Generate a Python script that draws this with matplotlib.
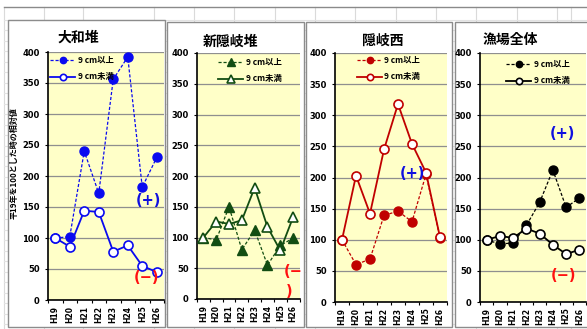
import numpy as np
import matplotlib
matplotlib.use("Agg")
import matplotlib.pyplot as plt
from matplotlib.patches import Rectangle
from matplotlib.lines import Line2D

plt.rcParams['font.family'] = ['Noto Sans CJK JP', 'DejaVu Sans']

# ---------- data ----------
years = ["H19", "H20", "H21", "H22", "H23", "H24", "H25", "H26"]
titles = ["大和堆", "新隠岐堆", "隠岐西", "漁場全体"]
label_big = "9 cm以上"
label_small = "9 cm未満"

yamato_big = [100, 102, 240, 172, 356, 392, 182, 230]
yamato_small = [100, 86, 144, 142, 78, 88, 55, 45]
shinoki_big = [100, 96, 150, 80, 112, 55, 87, 99]
shinoki_small = [100, 126, 122, 128, 181, 117, 79, 133]
okinishi_big = [100, 60, 69, 139, 146, 129, 205, 103]
okinishi_small = [100, 203, 142, 245, 318, 254, 208, 104]
zentai_big = [100, 93, 95, 123, 160, 212, 152, 167]
zentai_small = [100, 106, 103, 118, 110, 92, 77, 84]

W, H = 587, 329


def fbox(x0, y0, x1, y1):
    return [x0 / W, 1 - y1 / H, (x1 - x0) / W, (y1 - y0) / H]


def fx(x):
    return x / W


def fy(y):
    return 1 - y / H


fig = plt.figure(figsize=(W / 100, H / 100), dpi=100)

# ---------- spreadsheet background ----------
for cx in [4, 44, 83, 154, 194, 234, 275, 315, 355, 396, 436, 476, 517, 557, 571]:
    fig.add_artist(Line2D([fx(cx)] * 2, [fy(7), fy(329)], color="#dadada", lw=0.8, zorder=-3))
for ry in np.arange(19.5, 329, 10.5):
    fig.add_artist(Line2D([fx(4), 1], [fy(ry)] * 2, color="#e2e2e2", lw=0.8, zorder=-3))
fig.add_artist(Line2D([fx(4), 1], [fy(7)] * 2, color="#8a8a8a", lw=1.0, zorder=-3))

# ---------- panels ----------
panels = [
    dict(frame=(8, 20, 165, 327), plot=(48, 52, 164, 300), color="#0a0af0", marker="o",
         big=yamato_big, small=yamato_small, title_xy=(57, 38), leg=(50, 56)),
    dict(frame=(167, 22, 304, 327), plot=(197, 53, 299.5, 299), color="#124d12", marker="^",
         big=shinoki_big, small=shinoki_small, title_xy=(203, 42), leg=(218, 58)),
    dict(frame=(306, 22, 452, 327), plot=(335, 53, 447, 302), color="#c00000", marker="o",
         big=okinishi_big, small=okinishi_small, title_xy=(362, 41), leg=(357, 56)),
    dict(frame=(455, 22, 592, 327), plot=(480, 53, 586, 302), color="#000000", marker="o",
         big=zentai_big, small=zentai_small, title_xy=(483, 40), leg=(506, 60)),
]

x = np.arange(len(years))
for i, p in enumerate(panels):
    x0, y0, x1, y1 = p["frame"]
    fig.add_artist(Rectangle((fx(x0), fy(y1)), (x1 - x0) / W, (y1 - y0) / H,
                             transform=fig.transFigure, facecolor="white",
                             edgecolor="#8c8c8c", lw=1.0, zorder=-1))
    ax = fig.add_axes(fbox(*p["plot"]))
    ax.set_facecolor("#ffffc8")
    c = p["color"]
    ms = 7.5 if p["marker"] == "^" else 6.5
    ax.plot(x, p["big"], linestyle=(0, (2.5, 1.5)), lw=0.9, color=c,
            marker=p["marker"], ms=ms, mfc=c, mec=c, label=label_big, zorder=3)
    ax.plot(x, p["small"], linestyle="-", lw=1.3, color=c,
            marker=p["marker"], ms=ms, mfc="white", mec=c, mew=1.2, label=label_small, zorder=4)
    ax.set_xlim(-0.5, len(years) - 0.5)
    ax.set_ylim(0, 400)
    ax.set_yticks(np.arange(0, 401, 50))
    ax.yaxis.grid(True, color="#8f8f8f", lw=0.9)
    ax.set_axisbelow(True)
    for s in ["top", "right"]:
        ax.spines[s].set_visible(False)
    for s in ["left", "bottom"]:
        ax.spines[s].set_linewidth(1.2)
        ax.spines[s].set_color("black")
    ax.set_xticks(x)
    ax.set_xticklabels(years, rotation=90, fontsize=5.5, fontweight="bold",
                       family=["DejaVu Sans"])
    ax.set_xticks(np.arange(-0.5, len(years), 1), minor=True)
    ax.tick_params(axis="x", which="major", length=0, pad=4)
    ax.tick_params(axis="x", which="minor", length=2.5, width=0.8, direction="out")
    ax.tick_params(axis="y", length=2.5, width=0.8, labelsize=6, pad=3.5)
    for t in ax.get_yticklabels():
        t.set_fontweight("bold")
        t.set_family(["DejaVu Sans"])

    lx, ly = p["leg"]
    bx = (lx - p["plot"][0]) / (p["plot"][2] - p["plot"][0])
    by = 1 - (ly - p["plot"][1]) / (p["plot"][3] - p["plot"][1])
    leg = ax.legend(loc="upper left", bbox_to_anchor=(bx, by), frameon=False,
                    fontsize=6, handlelength=3.0, handletextpad=0.3,
                    labelspacing=0.9, borderpad=0, borderaxespad=0, markerscale=0.7)
    for t in leg.get_texts():
        t.set_fontweight("bold")

    fig.text(fx(p["title_xy"][0]), fy(p["title_xy"][1]), titles[i], fontsize=10,
             fontweight="bold", ha="left", va="center")

# y-axis label on first panel
fig.text(fx(14), fy(163), "平19年を100とした時の相対値", rotation=90, fontsize=5.8,
         fontweight="bold", ha="center", va="center")

# (+) / (−) marks
blue, red = "#1010e0", "#ff1010"
fam = ["DejaVu Sans"]
kw = dict(fontsize=10.5, fontweight="bold", va="center", family=fam)
fig.text(fx(148), fy(201), "(+)", color=blue, ha="center", **kw)
fig.text(fx(147), fy(277), "(−)", color=red, ha="center", **kw)
fig.text(fx(284), fy(272), "(−", color=red, ha="left", **kw)
fig.text(fx(286), fy(292), ")", color=red, ha="left", **kw)
fig.text(fx(412), fy(173), "(+)", color=blue, ha="center", **kw)
fig.text(fx(562), fy(133), "(+)", color=blue, ha="center", **kw)
fig.text(fx(564), fy(276), "(−)", color=red, ha="center", **kw)

fig.savefig("out.png", dpi=100)
